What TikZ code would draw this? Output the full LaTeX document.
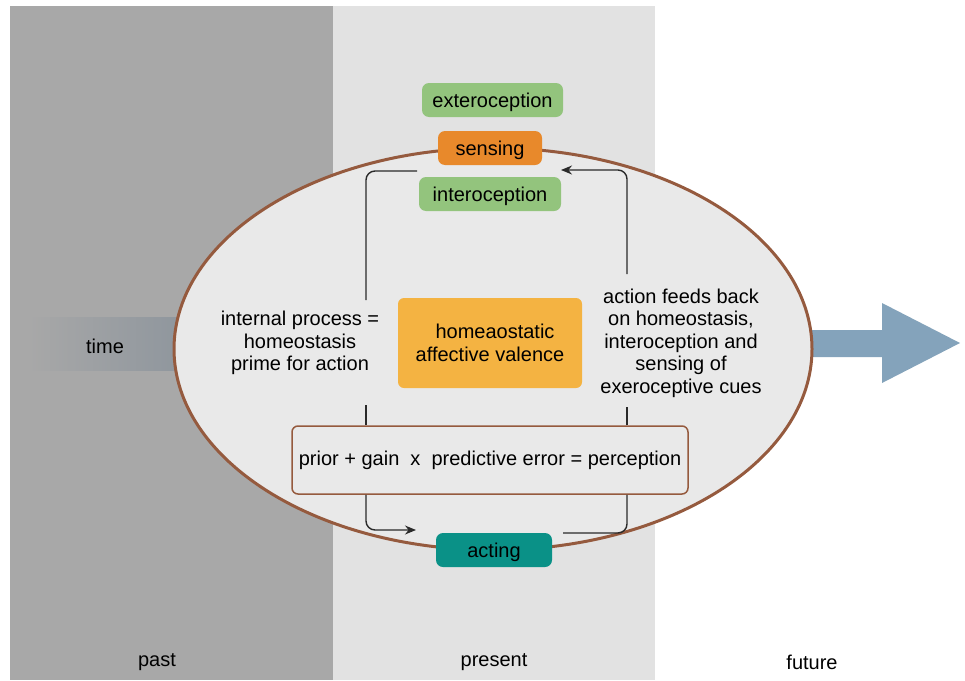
\documentclass[tikz,border=0pt]{standalone}
\usepackage{fontspec}
\setmainfont{Liberation Sans}
\usetikzlibrary{shapes.geometric,arrows.meta}
\definecolor{pastbg}{HTML}{A8A8A8}
\definecolor{presbg}{HTML}{E2E2E2}
\definecolor{ellfill}{HTML}{E9E9E9}
\definecolor{brownc}{HTML}{955A3E}
\definecolor{greenc}{HTML}{93C47D}
\definecolor{orangec}{HTML}{E8892B}
\definecolor{yellowc}{HTML}{F4B342}
\definecolor{tealc}{HTML}{0A9187}
\definecolor{arrowc}{HTML}{84A3BB}
\definecolor{timec}{HTML}{8C949C}
\definecolor{linec}{HTML}{2A2A2A}
\tikzset{
  txt/.style={font=\fontsize{20}{22.5}\selectfont, text=black, align=center, inner sep=0pt},
  pill/.style={txt, rounded corners=7pt, minimum height=34pt, text height=16.5pt, text depth=1.5pt, anchor=center},
  conn/.style={draw=linec, line width=1.4pt, rounded corners=9pt},
  tip/.style={-{Stealth[length=11pt,width=9pt]}}
}
\begin{document}
\begin{tikzpicture}[x=1pt,y=-1pt]
\useasboundingbox (0,0) rectangle (965,680);
% panels
\fill[pastbg] (10,6) rectangle (333,680);
\fill[presbg] (333,6) rectangle (655,680);
% time band
\shade[left color=pastbg, right color=timec] (28,317) rectangle (200,370);
\node[txt] (time) at (105,346) {time};
% future arrow
\fill[arrowc] (800,330) -- (882,330) -- (882,303) -- (960,343) -- (882,383) -- (882,357) -- (800,357) -- cycle;
% ellipse
\node[ellipse, draw=brownc, line width=3pt, fill=ellfill, minimum width=638pt, minimum height=402pt, inner sep=0pt] (cyc) at (493,349) {};
% boxes
\node[pill, fill=greenc, minimum width=141pt] (extero) at (492.5,100) {exteroception};
\node[pill, fill=orangec, minimum width=104pt] (sensing) at (490,148) {sensing};
\node[pill, fill=greenc, minimum width=142pt] (intero) at (490,194) {interoception};
\node[txt, fill=yellowc, rounded corners=6pt, minimum width=184pt, minimum height=90pt] (valence) at (490,343) {\hspace*{10pt}homeaostatic\\affective valence};
\node[txt, draw=brownc, line width=1.5pt, fill=ellfill, rounded corners=6pt, minimum width=396pt, minimum height=68pt] (prior) at (490,460) {prior + gain\ \ x\ \ predictive error = perception};
\node[pill, fill=tealc, minimum width=116pt] (acting) at (494,550) {acting};
% side texts
\node[txt] (ltext) at (300,343) {internal process =\\homeostasis\\prime for action};
\node[txt] (rtext) at (681,343) {action feeds back\\on homeostasis,\\interoception and\\sensing of\\exeroceptive cues};
% connectors
\coordinate (la) at (417,171);
\coordinate (lb) at (366,300);
\coordinate (lc) at (366,405);
\coordinate (ld) at (416,530);
\coordinate (ra) at (563,533);
\coordinate (rb) at (627,407);
\coordinate (rc) at (627,274);
\coordinate (rd) at (561,170);
\draw[conn] (la) -| (lb);
\draw[conn] (lc) -- (lc |- prior.north);
\draw[conn, tip] (lc |- prior.south) |- (ld);
\draw[conn] (ra) -| (rb |- prior.south);
\draw[conn] (rb |- prior.north) -- (rb);
\draw[conn, tip] (rc) |- (rd);
% labels
\node[txt] (past) at (157,662) {past};
\node[txt] (present) at (494,662) {present};
\node[txt] (future) at (812,662) {future};
\end{tikzpicture}
\end{document}
